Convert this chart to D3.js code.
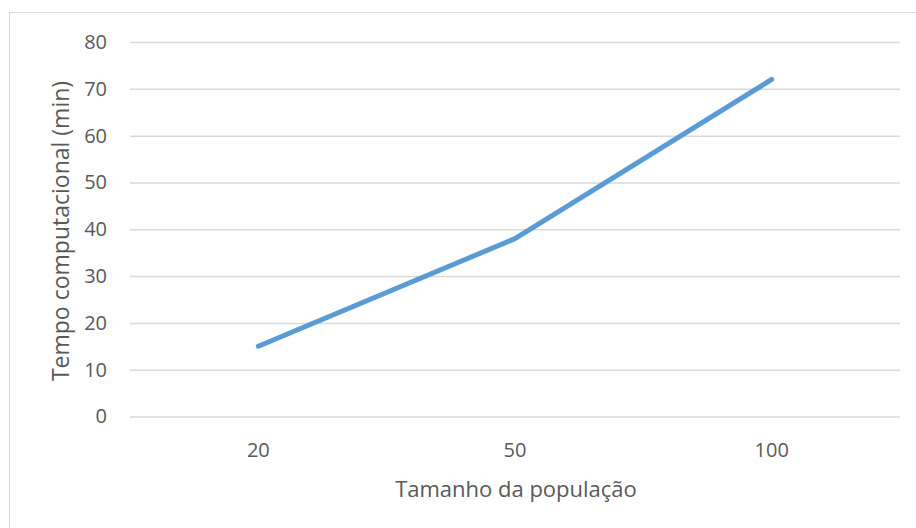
<!DOCTYPE html>
<html><head><meta charset="utf-8">
<script src="https://cdn.jsdelivr.net/npm/d3@7"></script>
<style>html,body{margin:0;padding:0;background:#fff;overflow:hidden}</style>
</head><body>
<svg id="c" width="916" height="528"></svg>
<script>
const categories = ["20", "50", "100"];
const values = [15, 38, 72];
const yTicks = [0, 10, 20, 30, 40, 50, 60, 70, 80];
const xTitle = "Tamanho da população";
const yTitle = "Tempo computacional (min)";

const svg = d3.select("#c");
const font = "'Open Sans', sans-serif";
const textColor = "#595959";

svg.append("rect").attr("x", 9.5).attr("y", 12.5).attr("width", 1000).attr("height", 1000)
  .attr("fill", "none").attr("stroke", "#d9d9d9").attr("stroke-width", 1);

const x = d3.scaleBand().domain(categories).range([130, 900]);
const y = d3.scaleLinear().domain([0, 80]).range([416.5, 42]);

const gy = svg.append("g").attr("transform", "translate(130,0)")
  .call(d3.axisLeft(y).tickValues(yTicks).tickSize(-770).tickPadding(23));
gy.select(".domain").remove();
gy.selectAll(".tick line").attr("stroke", "#d9d9d9").attr("stroke-width", 1.5);
gy.selectAll(".tick text").attr("fill", textColor).attr("font-family", font).attr("font-size", 20);

const gx = svg.append("g").attr("transform", "translate(0,416.5)")
  .call(d3.axisBottom(x).tickSize(0).tickPadding(26));
gx.select(".domain").remove();
gx.selectAll(".tick text").attr("fill", textColor).attr("font-family", font).attr("font-size", 20);

const line = d3.line().x((d, i) => x(categories[i]) + x.bandwidth() / 2).y(d => y(d));
svg.append("path").datum(values).attr("d", line)
  .attr("fill", "none").attr("stroke", "#5b9bd5").attr("stroke-width", 5)
  .attr("stroke-linecap", "round").attr("stroke-linejoin", "round");

svg.append("text").attr("x", 516).attr("y", 497).attr("text-anchor", "middle")
  .attr("fill", textColor).attr("font-family", font).attr("font-size", 22).text(xTitle);

svg.append("text").attr("transform", "translate(69,231) rotate(-90)").attr("text-anchor", "middle")
  .attr("fill", textColor).attr("font-family", font).attr("font-size", 23).text(yTitle);
</script>
</body></html>
